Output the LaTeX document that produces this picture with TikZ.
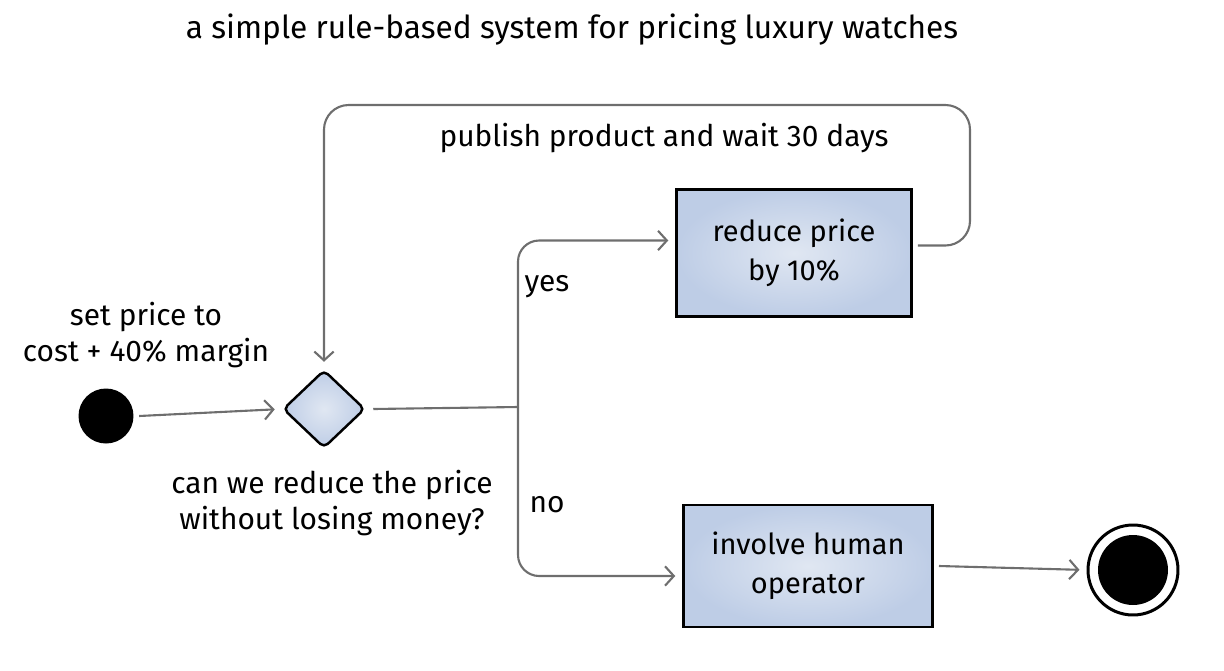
\documentclass[tikz,border=0pt]{standalone}
\usepackage{fontspec}
\setmainfont{Fira Sans}
\usepackage{tikz}
\usetikzlibrary{shapes.geometric,arrows.meta,calc}
\definecolor{wire}{RGB}{110,110,110}
\definecolor{boxin}{RGB}{224,231,242}
\definecolor{boxout}{RGB}{190,205,230}
\tikzstyle{line} = [draw=wire, line width=1.2pt, -{Straight Barb[length=5pt,width=11pt,line width=1.2pt]}, shorten >=4pt]
\tikzstyle{wire} = [draw=wire, line width=1.2pt]
\tikzstyle{block} = [draw, line width=1.4pt, rectangle, inner color=boxin, outer color=boxout, align=center, font=\fontsize{16.5}{22}\selectfont]
\tikzstyle{choice} = [draw, line width=1.4pt, diamond, inner color=boxin, outer color=boxout, rounded corners=3pt, minimum width=1.64cm, minimum height=1.56cm, inner sep=0pt, aspect=1.05]
\tikzstyle{note} = [align=center, font=\fontsize{17}{20}\selectfont]

\begin{document}
\begin{tikzpicture}[x=0.02cm, y=-0.02cm]
        \useasboundingbox (0,0) rectangle (1224,670);
        \node[font=\fontsize{18}{22}\selectfont] (title) at (572,30) {a simple rule-based system for pricing luxury watches};
        \node[circle, fill=black, minimum size=1.1cm, inner sep=0pt] (start) at (106,416) {};
        \node[note] (startlbl) at (146,335) {set price to\\cost + 40\% margin};
        \node[choice] (check) at (324,409) {};
        \node[note] (checklbl) at (332,503) {can we reduce the price\\without losing money?};
        \node[block, minimum width=4.7cm, minimum height=2.54cm] (reduce) at (794,253) {reduce price\\by 10\%};
        \node[block, minimum width=4.98cm, minimum height=2.44cm] (human) at (808,566) {involve human\\operator};
        \node[circle, draw, line width=1.7pt, minimum size=1.8cm, inner sep=0pt,
              path picture={\fill (path picture bounding box.center) circle (0.7cm);}] (finish) at (1133,570) {};
        \node[note] (yes) at (547,287) {yes};
        \node[note] (no) at (547,505) {no};
        \node[note] (publish) at (664,138) {publish product and wait 30 days};
        \coordinate (fork) at (518,407);
        \coordinate (loopright) at (970,105);
        \path[line] ([xshift=3pt]start.east) -- (check.west);
        \path[wire] ([xshift=4pt]check.east) -- (fork);
        \path[line, rounded corners=12] (fork) |- ([yshift=0.25cm]reduce.west);
        \path[line, rounded corners=12] (fork) |- ([yshift=-0.2cm]human.west);
        \path[line, rounded corners=14] ([yshift=0.15cm, xshift=3pt]reduce.east) -| (loopright) -| (check.north);
        \path[line] ([xshift=3pt]human.east) -- (finish.west);
    \end{tikzpicture}
\end{document}
